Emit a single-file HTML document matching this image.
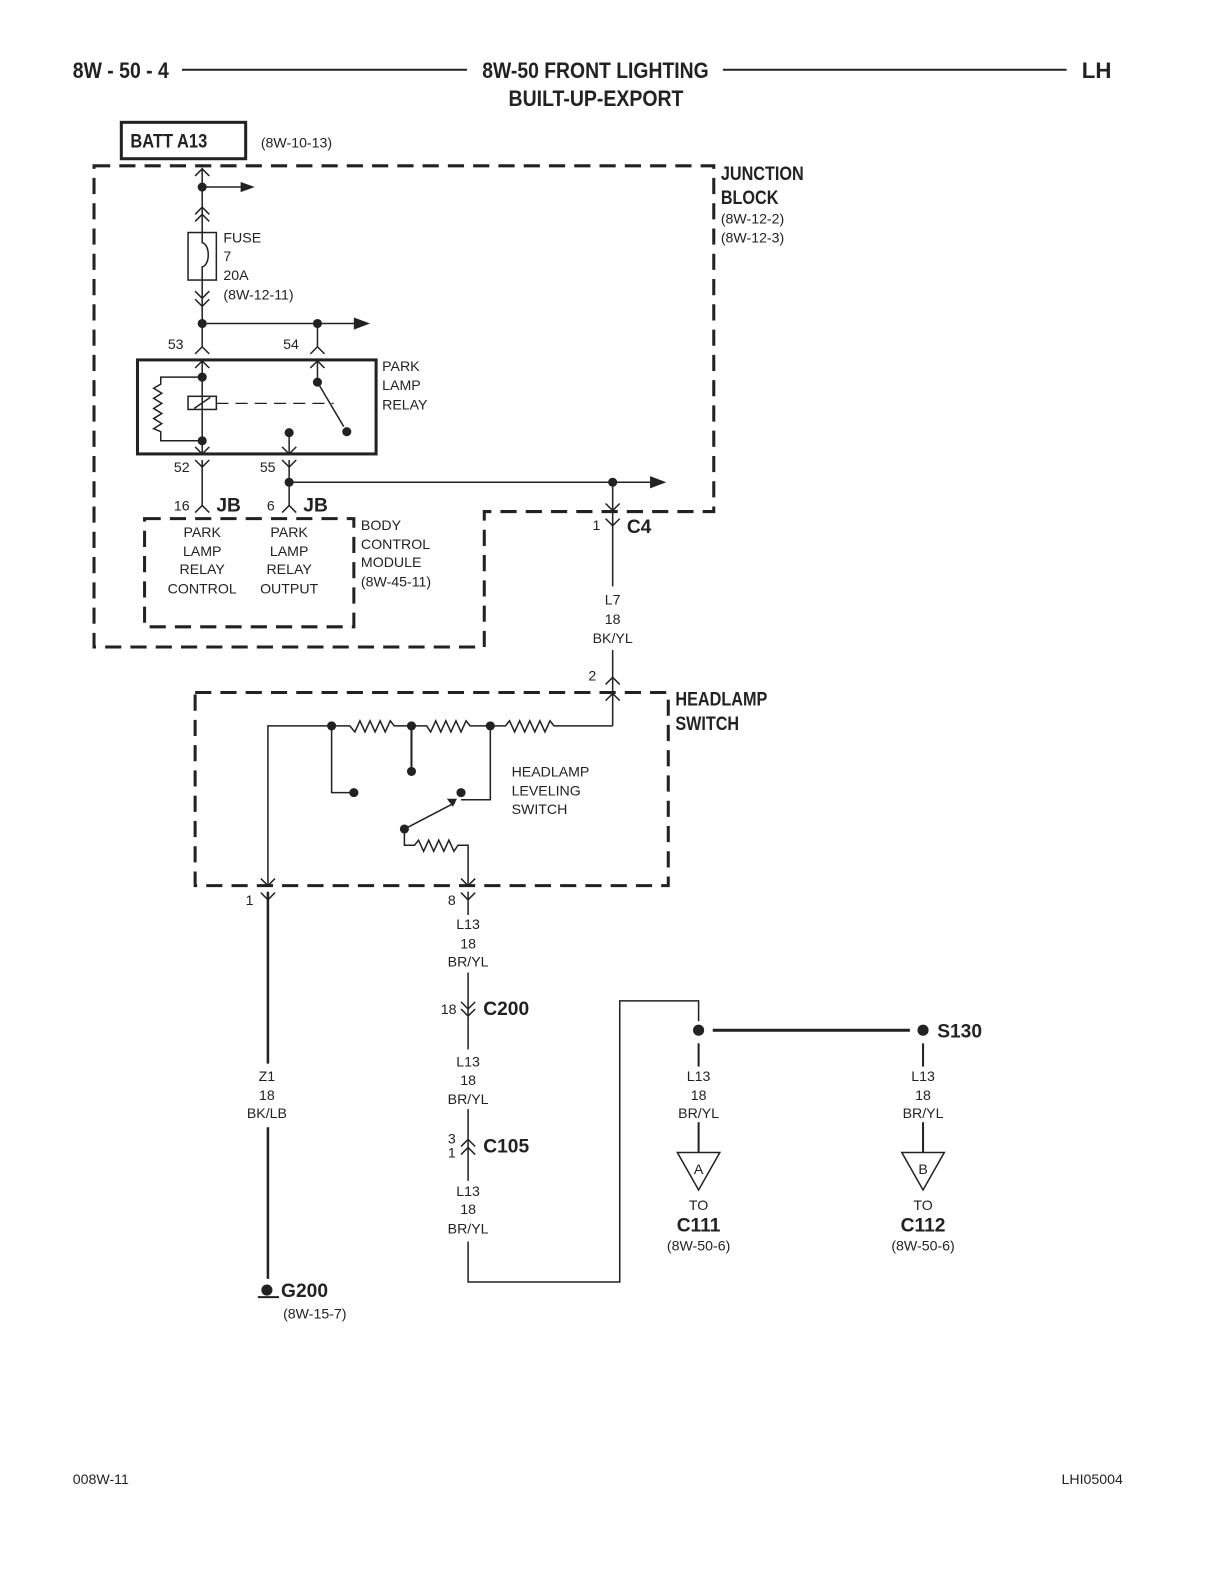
<!DOCTYPE html>
<html><head><meta charset="utf-8"><style>
html,body{margin:0;padding:0;background:#fff;}
svg{display:block;}
text{font-family:"Liberation Sans",sans-serif;fill:#222;}
.s{font-size:14px;}
.b{font-size:19px;font-weight:bold;}
.t{font-size:22px;font-weight:bold;}
</style></head><body>
<svg width="1224" height="1584" viewBox="0 0 1224 1584" xmlns="http://www.w3.org/2000/svg">
<defs>
<path id="up" d="M-7,7 L0,0 L7,7" fill="none" stroke="#222" stroke-width="1.5"/>
<path id="dn" d="M-7,-7 L0,0 L7,-7" fill="none" stroke="#222" stroke-width="1.5"/>
</defs>
<g transform="scale(1.011)">
<g stroke="#222" fill="none">
<line x1="180" y1="69" x2="462" y2="69" stroke-width="2"/>
<line x1="715" y1="69" x2="1055" y2="69" stroke-width="2"/>
<rect x="120" y="121" width="123" height="36" stroke-width="3"/>
<path d="M93,164 L706,164 L706,506 L479,506 L479,640 L93,640 Z" stroke-width="3" stroke-dasharray="16,9"/>
<rect x="143" y="513" width="207" height="107" stroke-width="3" stroke-dasharray="16,9"/>
<rect x="193" y="685" width="468" height="191" stroke-width="3" stroke-dasharray="16,9"/>
<line x1="200" y1="166" x2="200" y2="230" stroke-width="1.5"/>
<line x1="200" y1="277" x2="200" y2="343" stroke-width="1.5"/>
<line x1="200" y1="185" x2="240" y2="185" stroke-width="1.5"/>
<rect x="186" y="230" width="28" height="47" stroke-width="1.5"/>
<path d="M200,230 L200,240 C208,242 208,262 200,264 L200,277" stroke-width="1.5"/>
<line x1="200" y1="320" x2="355" y2="320" stroke-width="1.5"/>
<line x1="314" y1="320" x2="314" y2="343" stroke-width="1.5"/>
<rect x="136" y="356" width="236" height="93" stroke-width="3"/>
<line x1="200" y1="356" x2="200" y2="449" stroke-width="1.5"/>
<rect x="186" y="392" width="28" height="13" stroke-width="1.5"/>
<line x1="192" y1="404" x2="208" y2="393" stroke-width="1.5"/>
<path d="M200,373 L159,373 L159,380 L152,384 L160,389 L152,394 L160,399 L152,404 L160,409 L152,414 L160,419 L152,424 L159,427 L159,436 L200,436" stroke-width="1.5"/>
<line x1="214" y1="399" x2="330" y2="399" stroke-width="1.2" stroke-dasharray="12,7"/>
<line x1="314" y1="356" x2="314" y2="378" stroke-width="1.5"/>
<line x1="314" y1="378" x2="340" y2="422" stroke-width="1.5"/>
<line x1="286" y1="428" x2="286" y2="449" stroke-width="1.5"/>
<line x1="200" y1="455" x2="200" y2="500" stroke-width="1.5"/>
<line x1="286" y1="455" x2="286" y2="500" stroke-width="1.5"/>
<line x1="286" y1="477" x2="645" y2="477" stroke-width="1.5"/>
<line x1="606" y1="477" x2="606" y2="580" stroke-width="1.5"/>
<line x1="606" y1="643" x2="606" y2="718" stroke-width="1.5"/>
<path d="M606,718 L548,718 L544,713 L539,724 L534,713 L529,724 L524,713 L519,724 L514,713 L509,724 L504,713 L500,718 L485,718 L465,718 L461,713 L456,724 L451,713 L446,724 L441,713 L436,724 L431,713 L426,724 L422,718 L407,718 L390,718 L386,713 L381,724 L376,713 L371,724 L366,713 L361,724 L356,713 L351,724 L346,718 L328,718 L265,718 L265,876" stroke-width="1.5"/>
<path d="M328,718 L328,784 L350,784" stroke-width="1.5"/>
<line x1="407" y1="718" x2="407" y2="763" stroke-width="2"/>
<path d="M485,718 L485,791 L456,791" stroke-width="1.5"/>
<line x1="400" y1="820" x2="450" y2="794" stroke-width="1.5"/>
<path d="M400,820 L400,836 L410,836 L414,831 L419,842 L424,831 L429,842 L434,831 L439,842 L444,831 L449,842 L453,836 L463,836 L463,876" stroke-width="1.5"/>
<line x1="265" y1="882" x2="265" y2="1052" stroke-width="2.5"/>
<line x1="265" y1="1115" x2="265" y2="1265" stroke-width="2.5"/>
<line x1="255" y1="1283" x2="276" y2="1283" stroke-width="2"/>
<line x1="463" y1="882" x2="463" y2="905" stroke-width="1.5"/>
<line x1="463" y1="962" x2="463" y2="1038" stroke-width="1.5"/>
<line x1="463" y1="1097" x2="463" y2="1168" stroke-width="1.5"/>
<path d="M463,1228 L463,1268 L613,1268 L613,990 L691,990 L691,1010" stroke-width="1.5"/>
<line x1="705" y1="1019" x2="900" y2="1019" stroke-width="3"/>
<line x1="691" y1="1032" x2="691" y2="1055" stroke-width="2"/>
<line x1="691" y1="1110" x2="691" y2="1140" stroke-width="2"/>
<line x1="913" y1="1032" x2="913" y2="1055" stroke-width="2"/>
<line x1="913" y1="1110" x2="913" y2="1140" stroke-width="2"/>
<path d="M670,1140 L712,1140 L691,1177 Z" stroke-width="1.5"/>
<path d="M892,1140 L934,1140 L913,1177 Z" stroke-width="1.5"/>
</g>
<g fill="#222">
<path d="M238,180 L252,185 L238,190 Z"/>
<path d="M350,314 L366,320 L350,326 Z"/>
<path d="M643,471 L659,477 L643,483 Z"/>
<path d="M452,790 L442,790 L448,798 Z"/>
<circle cx="200" cy="185" r="4.5"/><circle cx="200" cy="320" r="4.5"/><circle cx="314" cy="320" r="4.5"/>
<circle cx="200" cy="373" r="4.5"/><circle cx="200" cy="436" r="4.5"/><circle cx="314" cy="378" r="4.5"/>
<circle cx="343" cy="427" r="4.5"/><circle cx="286" cy="428" r="4.5"/>
<circle cx="286" cy="477" r="4.5"/><circle cx="606" cy="477" r="4.5"/>
<circle cx="328" cy="718" r="4.5"/><circle cx="407" cy="718" r="4.5"/><circle cx="485" cy="718" r="4.5"/>
<circle cx="350" cy="784" r="4.5"/><circle cx="407" cy="763" r="4.5"/><circle cx="456" cy="784" r="4.5"/>
<circle cx="400" cy="820" r="4.5"/>
<circle cx="264" cy="1276" r="5.5"/>
<circle cx="691" cy="1019" r="5.5"/><circle cx="913" cy="1019" r="5.5"/>
</g>
<use href="#up" x="200" y="167"/><use href="#up" x="200" y="205"/><use href="#up" x="200" y="212"/>
<use href="#dn" x="200" y="295"/><use href="#dn" x="200" y="303"/>
<use href="#up" x="200" y="343"/><use href="#up" x="200" y="357"/>
<use href="#up" x="314" y="343"/><use href="#up" x="314" y="357"/>
<use href="#dn" x="200" y="449"/><use href="#dn" x="286" y="449"/>
<use href="#dn" x="200" y="462"/><use href="#dn" x="286" y="462"/>
<use href="#up" x="200" y="500"/><use href="#up" x="286" y="500"/>
<use href="#dn" x="606" y="505"/><use href="#dn" x="606" y="520"/>
<use href="#up" x="606" y="670"/><use href="#up" x="606" y="686"/>
<use href="#dn" x="265" y="876"/><use href="#dn" x="463" y="876"/>
<use href="#dn" x="265" y="890"/><use href="#dn" x="463" y="890"/>
<use href="#dn" x="463" y="998"/><use href="#dn" x="463" y="1005"/>
<use href="#up" x="463" y="1127"/><use href="#up" x="463" y="1135"/>
<text x="72" y="77" class="t" textLength="95" lengthAdjust="spacingAndGlyphs">8W - 50 - 4</text>
<text x="477" y="77" class="t" textLength="224" lengthAdjust="spacingAndGlyphs">8W-50 FRONT LIGHTING</text>
<text x="503" y="105" class="t" textLength="173" lengthAdjust="spacingAndGlyphs">BUILT-UP-EXPORT</text>
<text x="1070" y="77" class="t">LH</text>
<text x="129" y="146" class="b" textLength="76" lengthAdjust="spacingAndGlyphs">BATT A13</text>
<text x="258" y="146" class="s">(8W-10-13)</text>
<text x="713" y="178" class="b" textLength="82" lengthAdjust="spacingAndGlyphs">JUNCTION</text>
<text x="713" y="202" class="b" textLength="57" lengthAdjust="spacingAndGlyphs">BLOCK</text>
<text x="713" y="221" class="s">(8W-12-2)</text>
<text x="713" y="240" class="s">(8W-12-3)</text>
<text x="221" y="240" class="s">FUSE</text>
<text x="221" y="258" class="s">7</text>
<text x="221" y="277" class="s">20A</text>
<text x="221" y="296" class="s">(8W-12-11)</text>
<text x="166" y="345" class="s">53</text>
<text x="280" y="345" class="s">54</text>
<text x="378" y="367" class="s">PARK</text>
<text x="378" y="386" class="s">LAMP</text>
<text x="378" y="405" class="s">RELAY</text>
<text x="172" y="467" class="s">52</text>
<text x="257" y="467" class="s">55</text>
<text x="172" y="505" class="s">16</text>
<text x="214" y="506" class="b">JB</text>
<text x="264" y="505" class="s">6</text>
<text x="300" y="506" class="b">JB</text>
<g class="s" text-anchor="middle">
<text x="200" y="531">PARK</text><text x="200" y="550">LAMP</text><text x="200" y="568">RELAY</text><text x="200" y="587">CONTROL</text>
<text x="286" y="531">PARK</text><text x="286" y="550">LAMP</text><text x="286" y="568">RELAY</text><text x="286" y="587">OUTPUT</text>
<text x="606" y="598">L7</text><text x="606" y="617">18</text><text x="606" y="636">BK/YL</text>
<text x="463" y="919">L13</text><text x="463" y="938">18</text><text x="463" y="956">BR/YL</text>
<text x="463" y="1055">L13</text><text x="463" y="1073">18</text><text x="463" y="1092">BR/YL</text>
<text x="463" y="1183">L13</text><text x="463" y="1201">18</text><text x="463" y="1220">BR/YL</text>
<text x="264" y="1069">Z1</text><text x="264" y="1088">18</text><text x="264" y="1106">BK/LB</text>
<text x="691" y="1069">L13</text><text x="691" y="1088">18</text><text x="691" y="1106">BR/YL</text>
<text x="913" y="1069">L13</text><text x="913" y="1088">18</text><text x="913" y="1106">BR/YL</text>
<text x="691" y="1161">A</text><text x="913" y="1161">B</text>
<text x="691" y="1197">TO</text><text x="913" y="1197">TO</text>
<text x="691" y="1237">(8W-50-6)</text><text x="913" y="1237">(8W-50-6)</text>
</g>
<text x="691" y="1218" class="b" text-anchor="middle">C111</text>
<text x="913" y="1218" class="b" text-anchor="middle">C112</text>
<text x="357" y="524" class="s">BODY</text>
<text x="357" y="543" class="s">CONTROL</text>
<text x="357" y="561" class="s">MODULE</text>
<text x="357" y="580" class="s">(8W-45-11)</text>
<text x="586" y="524" class="s">1</text>
<text x="620" y="527" class="b">C4</text>
<text x="582" y="673" class="s">2</text>
<text x="668" y="698" class="b" textLength="91" lengthAdjust="spacingAndGlyphs">HEADLAMP</text>
<text x="668" y="722" class="b" textLength="63" lengthAdjust="spacingAndGlyphs">SWITCH</text>
<text x="506" y="768" class="s">HEADLAMP</text>
<text x="506" y="787" class="s">LEVELING</text>
<text x="506" y="805" class="s">SWITCH</text>
<text x="243" y="895" class="s">1</text>
<text x="443" y="895" class="s">8</text>
<text x="436" y="1003" class="s">18</text>
<text x="478" y="1004" class="b">C200</text>
<text x="443" y="1131" class="s">3</text>
<text x="443" y="1145" class="s">1</text>
<text x="478" y="1140" class="b">C105</text>
<text x="927" y="1026" class="b">S130</text>
<text x="278" y="1283" class="b">G200</text>
<text x="280" y="1304" class="s">(8W-15-7)</text>
<text x="72" y="1468" class="s">008W-11</text>
<text x="1050" y="1468" class="s">LHI05004</text>
</g>
</svg>
</body></html>
